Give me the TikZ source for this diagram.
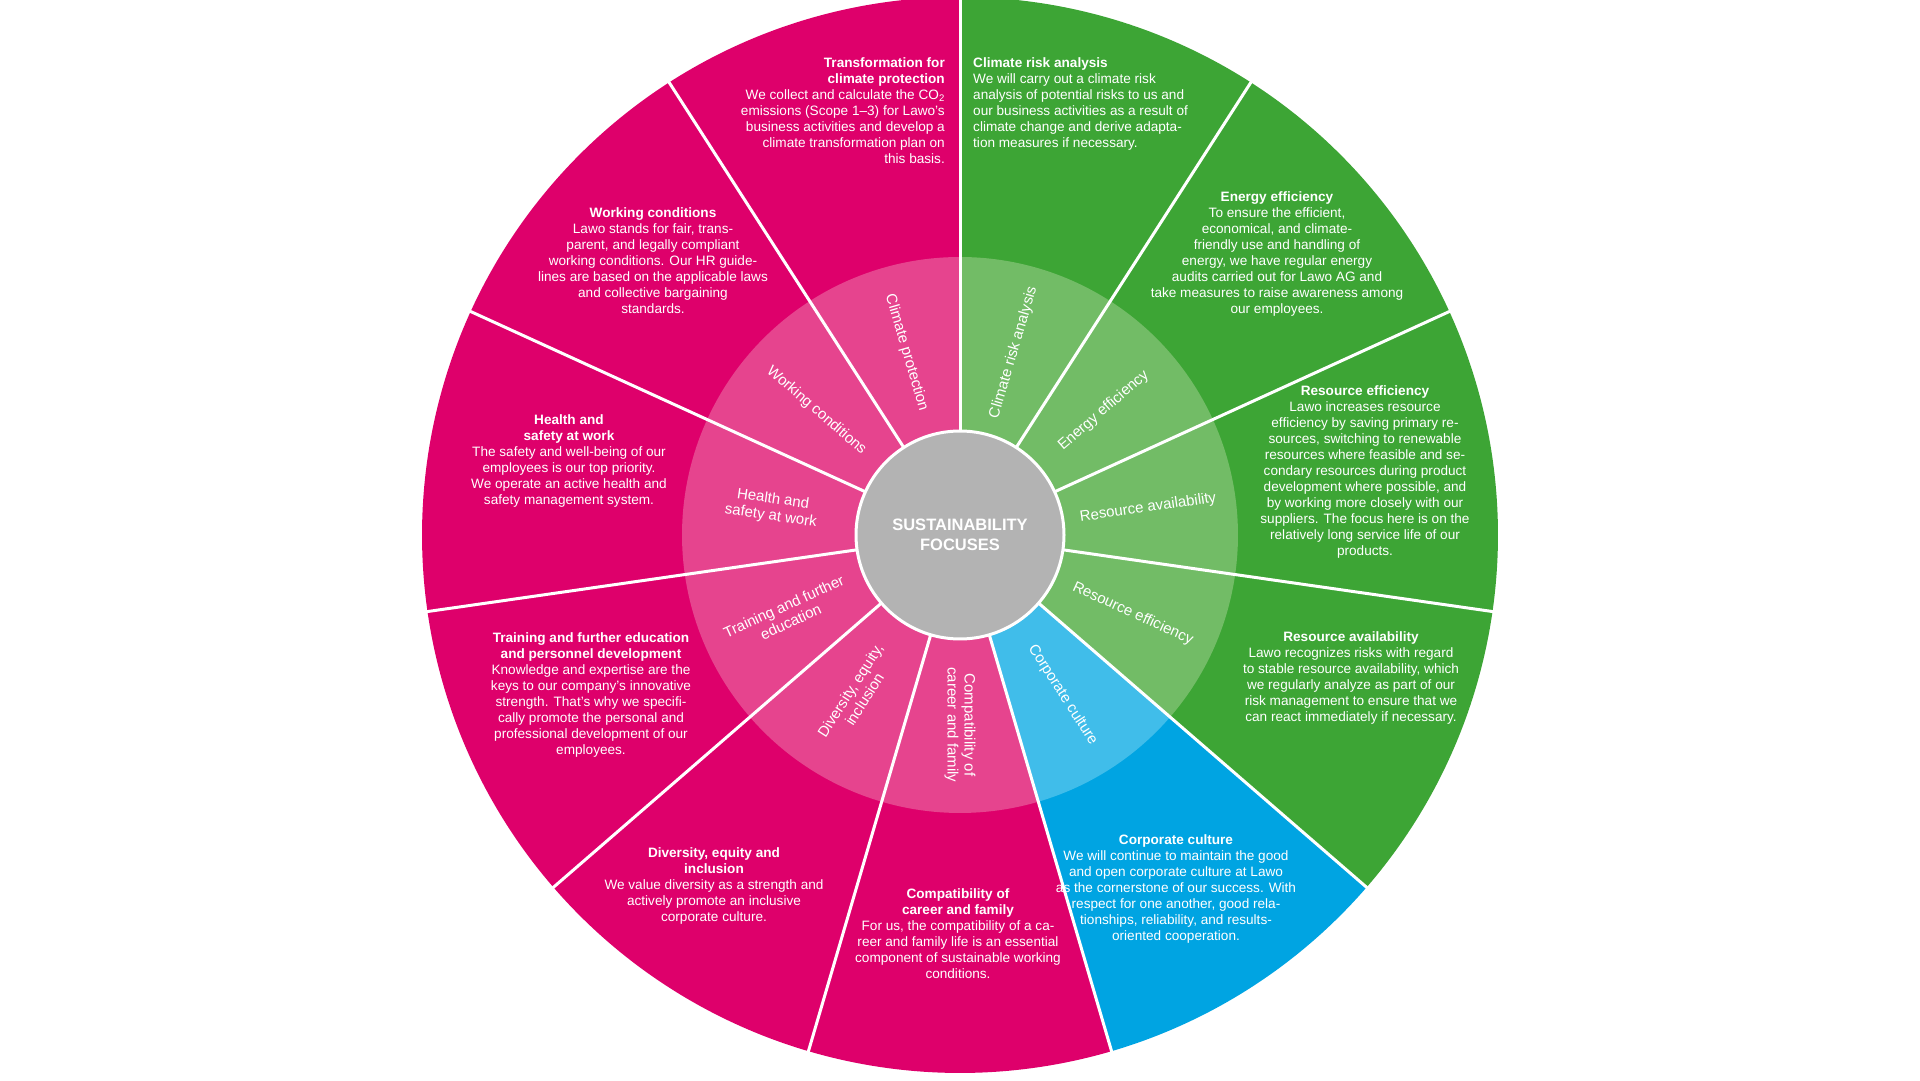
\documentclass[tikz,border=0pt]{standalone}
\usepackage{fontspec}
\setmainfont{Liberation Sans}
\usetikzlibrary{calc}
\begin{document}
\begin{tikzpicture}[x=1pt,y=1pt,
  txt/.style={font=\fontsize{13.6}{16}\selectfont,text=white,align=center,inner sep=0},
  inl/.style={font=\fontsize{15}{17}\selectfont,text=white,align=center,inner sep=0}]
\definecolor{mag}{HTML}{DE006B}\definecolor{lmag}{HTML}{E6448E}
\definecolor{grn}{HTML}{3DA535}\definecolor{lgrn}{HTML}{72BC66}
\definecolor{blu}{HTML}{00A4E2}\definecolor{lblu}{HTML}{40BDEA}
\definecolor{cgray}{HTML}{B3B3B3}
\useasboundingbox (0,0) rectangle (1920,1080);
\fill[white] (0,0) rectangle (1920,1080);
\coordinate (c) at (960,545);
\pgfmathsetmacro{\st}{360/11}
\foreach \k/\co/\lc in {0/grn/lgrn,1/grn/lgrn,2/grn/lgrn,3/grn/lgrn,4/blu/lblu,5/mag/lmag,6/mag/lmag,7/mag/lmag,8/mag/lmag,9/mag/lmag,10/mag/lmag}{
  \pgfmathsetmacro{\a}{90-\k*\st}\pgfmathsetmacro{\b}{90-(\k+1)*\st}
  \fill[\co] (c) -- ++(\a:538) arc[start angle=\a,end angle=\b,radius=538] -- cycle;
  \fill[\lc] (c) -- ++(\a:278) arc[start angle=\a,end angle=\b,radius=278] -- cycle;
}
\foreach \k in {0,...,10}{
  \pgfmathsetmacro{\a}{90-\k*\st}
  \draw[white,line width=3] (c) -- ++(\a:540);
}
\fill[cgray,draw=white,line width=3] (c) circle (104);
\node[inl,font=\bfseries\fontsize{16.5}{20}\selectfont] (ctr) at (c) {SUSTAINABILITY\\FOCUSES};
% inner labels
\foreach \k/\r/\t in {0/73.6/{Climate risk analysis},1/40.9/{Energy efficiency},2/8.2/{Resource availability},3/-24.5/{Resource efficiency},4/-57.3/{Corporate culture},5/-90/{Compatibility of\\career and family},6/57.3/{Diversity, equity,\\inclusion},7/24.5/{Training and further\\education},8/-8.2/{Health and\\safety at work},9/-40.9/{Working conditions},10/-73.6/{Climate protection}}{
  \pgfmathsetmacro{\m}{90-(\k+0.5)*\st}
  \node[inl,rotate=\r] (in\k) at ($(c)+(\m:190)$) {\t};
}
% outer texts
\node[txt,align=left,anchor=north west] (t0) at (973,1023) {\textbf{Climate risk analysis}\\We will carry out a climate risk\\analysis of potential risks to us and\\our business activities as a result of\\climate change and derive adapta-\\tion measures if necessary.};
\node[txt,align=right,anchor=north east] (t10) at (945,1023) {\textbf{Transformation for}\\\textbf{climate protection}\\We collect and calculate the CO\textsubscript{2}\\emissions (Scope 1--3) for Lawo's\\business activities and develop a\\climate transformation plan on\\this basis.};
\node[txt,anchor=north] (t1) at (1277,889) {\textbf{Energy efficiency}\\To ensure the efficient,\\economical, and climate-\\friendly use and handling of\\energy, we have regular energy\\audits carried out for Lawo AG and\\take measures to raise awareness among\\our employees.};
\node[txt,anchor=north] (t9) at (653,873) {\textbf{Working conditions}\\Lawo stands for fair, trans-\\parent, and legally compliant\\working conditions. Our HR guide-\\lines are based on the applicable laws\\and collective bargaining\\standards.};
\node[txt,anchor=north] (t2) at (1365,695) {\textbf{Resource efficiency}\\Lawo increases resource\\efficiency by saving primary re-\\sources, switching to renewable\\resources where feasible and se-\\condary resources during product\\development where possible, and\\by working more closely with our\\suppliers. The focus here is on the\\relatively long service life of our\\products.};
\node[txt,anchor=north] (t8) at (569,666) {\textbf{Health and}\\\textbf{safety at work}\\The safety and well-being of our\\employees is our top priority.\\We operate an active health and\\safety management system.};
\node[txt,anchor=north] (t3) at (1351,449) {\textbf{Resource availability}\\Lawo recognizes risks with regard\\to stable resource availability, which\\we regularly analyze as part of our\\risk management to ensure that we\\can react immediately if necessary.};
\node[txt,anchor=north] (t7) at (591,448) {\textbf{Training and further education}\\\textbf{and personnel development}\\Knowledge and expertise are the\\keys to our company's innovative\\strength. That's why we specifi-\\cally promote the personal and\\professional development of our\\employees.};
\node[txt,anchor=north] (t4) at (1176,246) {\textbf{Corporate culture}\\We will continue to maintain the good\\and open corporate culture at Lawo\\as the cornerstone of our success. With\\respect for one another, good rela-\\tionships, reliability, and results-\\oriented cooperation.};
\node[txt,anchor=north] (t6) at (714,233) {\textbf{Diversity, equity and}\\\textbf{inclusion}\\We value diversity as a strength and\\actively promote an inclusive\\corporate culture.};
\node[txt,anchor=north] (t5) at (958,192) {\textbf{Compatibility of}\\\textbf{career and family}\\For us, the compatibility of a ca-\\reer and family life is an essential\\component of sustainable working\\conditions.};
\end{tikzpicture}
\end{document}
